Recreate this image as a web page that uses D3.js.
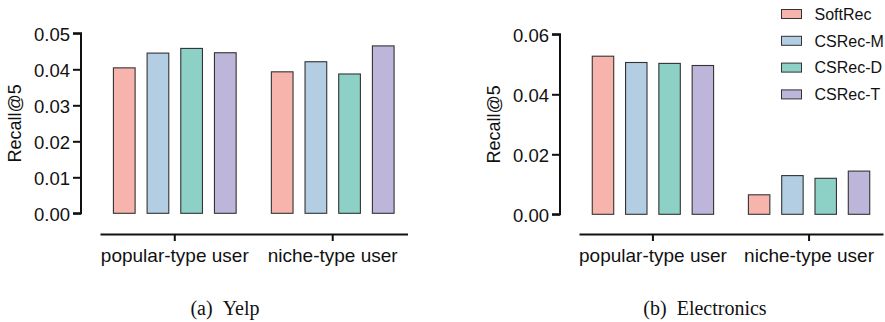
<!DOCTYPE html>
<html>
<head>
<meta charset="utf-8">
<script src="https://cdn.jsdelivr.net/npm/d3@7"></script>
<style>
  html, body { margin: 0; padding: 0; background: #fff; }
  svg { display: block; }
</style>
</head>
<body>
<svg id="chart" width="885" height="322"></svg>
<script>
// Recall@5 of SoftRec and the CSRec variants, split by user type
const groups = ["popular-type user", "niche-type user"];
const series = ["SoftRec", "CSRec-M", "CSRec-D", "CSRec-T"];
const colors = ["#F7B4AC", "#B3CDE2", "#8DD1C6", "#BDB5DA"];

// one array per method: [popular-type, niche-type]
const yelpSoftRec = [0.0404, 0.0393];
const yelpCSRecM  = [0.0445, 0.0421];
const yelpCSRecD  = [0.0458, 0.0387];
const yelpCSRecT  = [0.0446, 0.0465];

const elecSoftRec = [0.0527, 0.0065];
const elecCSRecM  = [0.0506, 0.0129];
const elecCSRecD  = [0.0503, 0.0120];
const elecCSRecT  = [0.0496, 0.0144];

const yelpTicks = [0, 0.01, 0.02, 0.03, 0.04, 0.05];
const elecTicks = [0, 0.02, 0.04, 0.06];

const panels = [
  {
    caption: "(a)\u00a0\u00a0Yelp",
    values: [yelpSoftRec, yelpCSRecM, yelpCSRecD, yelpCSRecT],
    ymax: 0.05, ticks: yelpTicks,
    axisX: 81, yRange: [213.3, 33.3],
    xRange: [100, 407.5], titleX: 20.5, captionX: 225
  },
  {
    caption: "(b)\u00a0\u00a0Electronics",
    values: [elecSoftRec, elecCSRecM, elecCSRecD, elecCSRecT],
    ymax: 0.06, ticks: elecTicks,
    axisX: 560, yRange: [214.3, 34.3],
    xRange: [579, 883], titleX: 499.5, captionX: 705
  }
];

const svg = d3.select("#chart");
const sans = "'Liberation Sans', Arial, Helvetica, sans-serif";
const serif = "'Liberation Serif', 'Times New Roman', serif";
const ink = "#111";

panels.forEach(p => {
  const g = svg.append("g");

  const y = d3.scaleLinear().domain([0, p.ymax]).range(p.yRange);
  const x0 = d3.scaleBand().domain(groups).range(p.xRange)
    .paddingInner(0.147).paddingOuter(0.047);
  const x1 = d3.scaleBand().domain(series).range([0, x0.bandwidth()])
    .paddingInner(0.356).paddingOuter(0.178);

  // bars
  groups.forEach((grp, gi) => {
    series.forEach((s, si) => {
      const v = p.values[si][gi];
      g.append("rect")
        .attr("x", x0(grp) + x1(s))
        .attr("y", y(v))
        .attr("width", x1.bandwidth())
        .attr("height", y(0) - y(v))
        .attr("fill", colors[si])
        .attr("stroke", "#333")
        .attr("stroke-width", 1.1);
    });
  });

  // y axis
  const yAxis = d3.axisLeft(y).tickValues(p.ticks)
    .tickFormat(d3.format(".2f")).tickSize(8).tickPadding(3);
  const ya = g.append("g").attr("transform", `translate(${p.axisX},0)`).call(yAxis);
  ya.select(".domain").attr("d", `M-8,${y(p.ymax)}H0V${y(0)}H-8`)
    .attr("stroke", ink).attr("stroke-width", 2).attr("fill", "none");
  ya.selectAll(".tick line").attr("stroke", ink).attr("stroke-width", 2);
  ya.selectAll(".tick text")
    .attr("font-family", sans).attr("font-size", 18.5).attr("fill", ink)
    .attr("dy", "0.38em");

  // x axis, set below the bars
  const axisY = 234;
  const xAxis = d3.axisBottom(x0).tickSize(7).tickPadding(8).tickSizeOuter(0);
  const xa = g.append("g").attr("transform", `translate(0,${axisY})`).call(xAxis);
  xa.select(".domain").attr("stroke", ink).attr("stroke-width", 2);
  xa.selectAll(".tick line").attr("stroke", ink).attr("stroke-width", 2);
  xa.selectAll(".tick text")
    .attr("font-family", sans).attr("font-size", 19).attr("fill", ink);

  // axis title
  g.append("text")
    .attr("transform", `translate(${p.titleX},${(p.yRange[0] + p.yRange[1]) / 2}) rotate(-90)`)
    .attr("text-anchor", "middle")
    .attr("font-family", sans).attr("font-size", 18).attr("fill", ink)
    .text("Recall@5");

  // caption
  g.append("text")
    .attr("x", p.captionX).attr("y", 314.5)
    .attr("text-anchor", "middle")
    .attr("font-family", serif).attr("font-size", 20).attr("fill", ink)
    .text(p.caption);
});

// legend
const legend = svg.append("g");
series.forEach((s, i) => {
  const row = legend.append("g").attr("transform", `translate(781.5,${14 + i * 26.8})`);
  row.append("rect")
    .attr("x", 0).attr("y", -4.5).attr("width", 20).attr("height", 9)
    .attr("fill", colors[i]).attr("stroke", "#333").attr("stroke-width", 1);
  row.append("text")
    .attr("x", 33).attr("y", 0).attr("dy", "0.36em")
    .attr("font-family", sans).attr("font-size", 16).attr("fill", ink)
    .text(s);
});
</script>
</body>
</html>
